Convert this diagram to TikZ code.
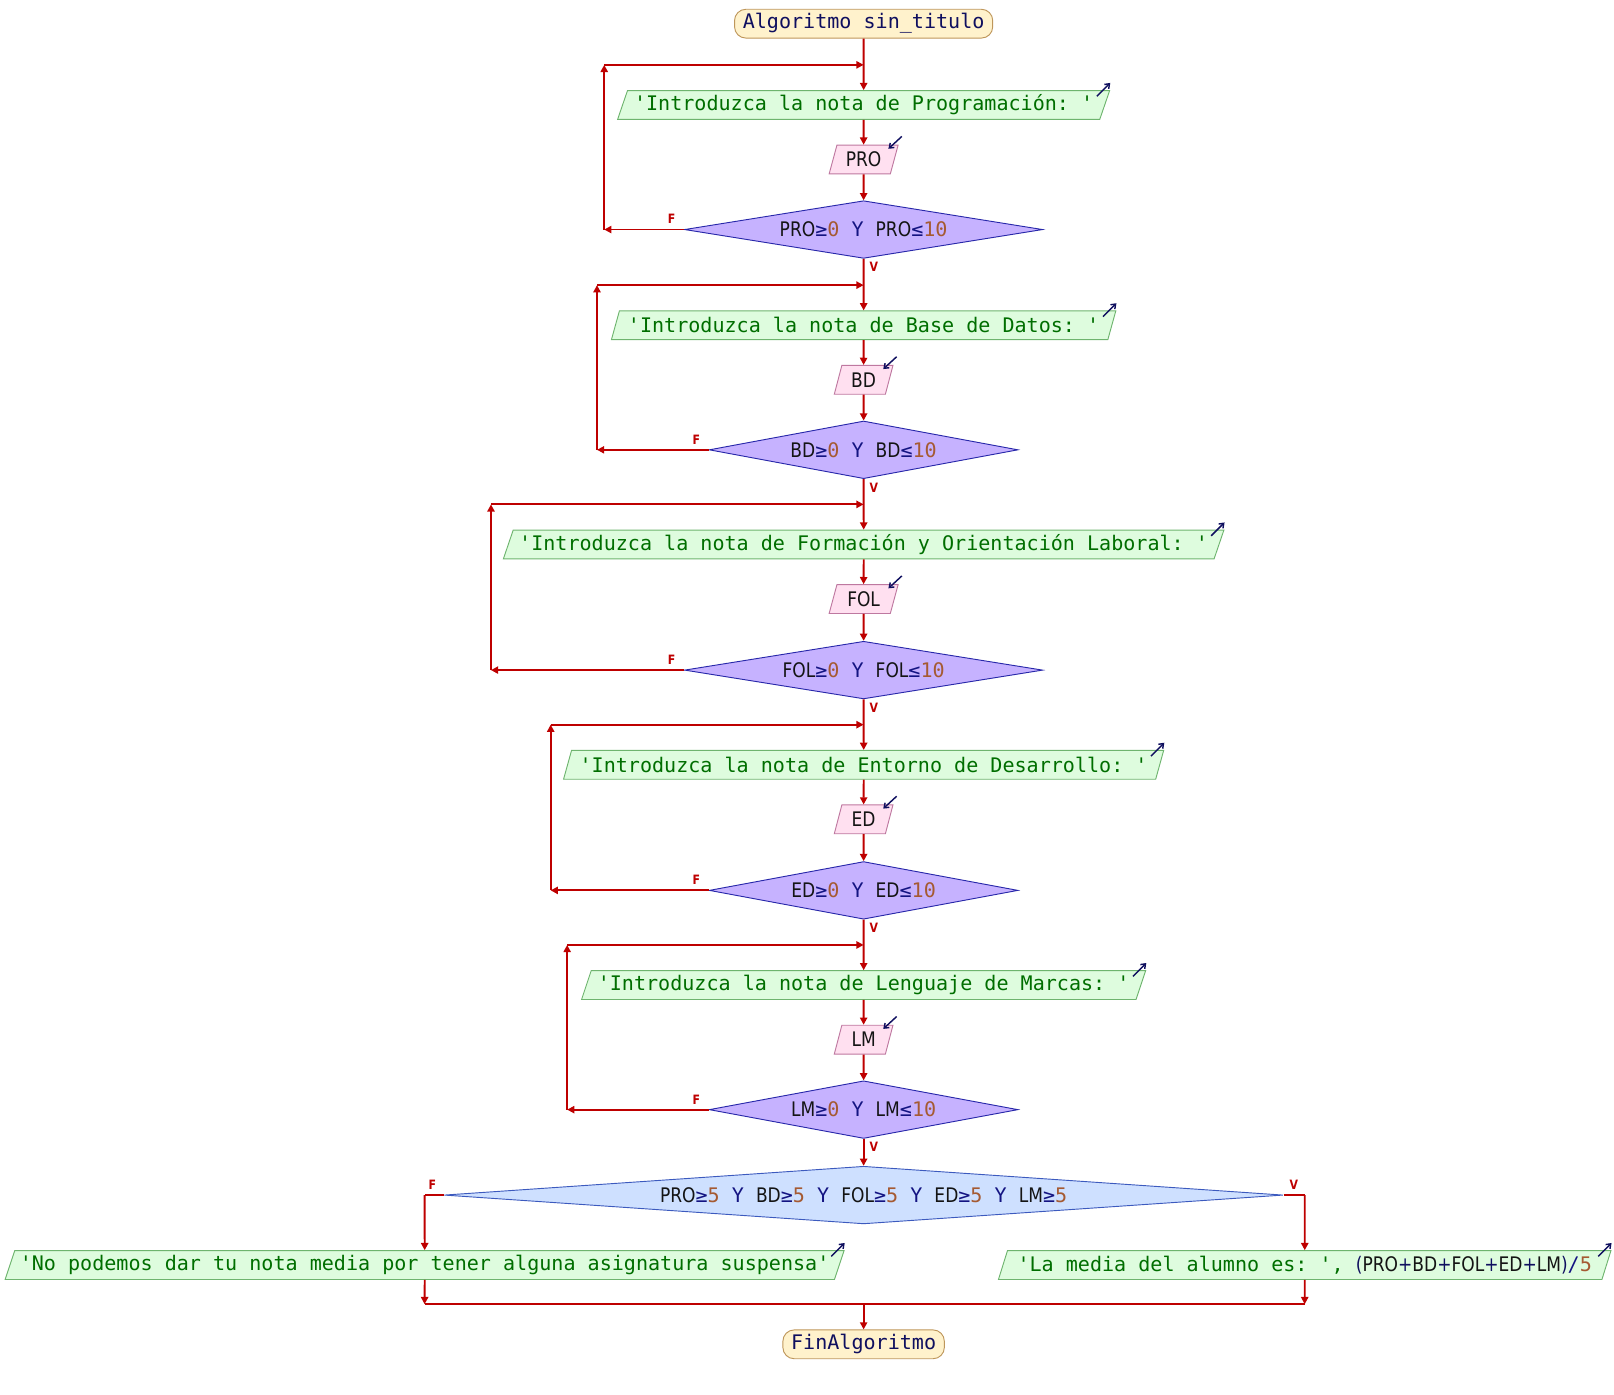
\documentclass[tikz,border=0pt]{standalone}
\usepackage{fontspec}
\setmonofont{DejaVu Sans Mono}
\newfontfamily\idf[FakeStretch=0.85]{DejaVu Sans}
\usetikzlibrary{shapes.geometric,arrows.meta}

\definecolor{flowred}{RGB}{190,0,0}
\definecolor{strgreen}{RGB}{0,110,0}
\definecolor{numbrown}{RGB}{165,90,50}
\definecolor{kwblue}{RGB}{20,20,130}
\definecolor{navy}{RGB}{15,15,95}
\definecolor{idblack}{RGB}{20,20,20}
\definecolor{termfill}{RGB}{255,242,204}
\definecolor{termdraw}{RGB}{190,150,90}
\definecolor{outfill}{RGB}{222,252,222}
\definecolor{outdraw}{RGB}{110,180,110}
\definecolor{infill}{RGB}{255,224,240}
\definecolor{indraw}{RGB}{190,120,160}
\definecolor{condfill}{RGB}{198,178,255}
\definecolor{conddraw}{RGB}{40,40,170}
\definecolor{finalfill}{RGB}{206,224,255}
\definecolor{finaldraw}{RGB}{60,90,190}

% text pieces
\newcommand\str[1]{{\color{strgreen}\ttfamily #1}}
\newcommand\idn[1]{{\color{idblack}\idf #1}}
\newcommand\num[1]{{\color{numbrown}\ttfamily #1}}
\newcommand\kw[1]{{\color{kwblue}\ttfamily #1}}
\newcommand\opr[1]{{\color{kwblue}\ttfamily #1}}

\begin{document}
\begin{tikzpicture}[x=1pt,y=-1pt,
  font=\fontsize{19.5}{23}\selectfont,
  term/.style={draw=termdraw,fill=termfill,rounded corners=11pt,line width=0.9pt,
    minimum height=28pt,inner xsep=8pt,inner ysep=2pt,text=navy,font=\fontsize{19.5}{23}\selectfont\ttfamily},
  outbox/.style={trapezium,trapezium left angle=68,trapezium right angle=112,
    trapezium stretches body,draw=outdraw,fill=outfill,line width=0.9pt,
    minimum height=28pt,inner xsep=2pt,inner ysep=2pt},
  inbox/.style={trapezium,trapezium left angle=68,trapezium right angle=112,
    trapezium stretches body,draw=indraw,fill=infill,line width=0.9pt,
    minimum height=28pt,inner xsep=1pt,inner ysep=2pt},
  cond/.style={diamond,draw=conddraw,fill=condfill,line width=0.9pt,
    inner sep=0pt,aspect=6,minimum height=56pt},
  finalcond/.style={diamond,draw=finaldraw,fill=finalfill,line width=0.9pt,
    inner sep=0pt,aspect=14,minimum height=56pt},
  flow/.style={draw=flowred,line width=1.8pt,-{Triangle[length=7pt,width=7pt]}},
  plain/.style={draw=flowred,line width=1.8pt},
  icon/.style={draw=navy,line width=1.4pt,-{Straight Barb[length=4pt,width=6pt]}},
  tag/.style={text=flowred,font=\fontsize{12.5}{13}\selectfont\idf\bfseries,inner sep=0pt}
]
\useasboundingbox (0,0) rectangle (1568,1355);

% start
\node[term] (t) at (839,23) {Algoritmo sin\_titulo};

% block 1
\node[outbox,minimum width=478pt] (o1) at (839,102) {\str{'Introduzca la nota de Programación: '}};
\node[inbox,minimum width=67pt] (i1) at (839,155) {\idn{PRO}};
\node[cond,minimum width=348pt] (d1) at (839,223) {\idn{PRO}\opr{≥}\num{0}\kw{\ Y\ }\idn{PRO}\opr{≤}\num{10}};

% block 2
\node[outbox,minimum width=490pt] (o2) at (839,316) {\str{'Introduzca la nota de Base de Datos: '}};
\node[inbox,minimum width=57pt] (i2) at (839,369) {\idn{BD}};
\node[cond,minimum width=300pt] (d2) at (839,437) {\idn{BD}\opr{≥}\num{0}\kw{\ Y\ }\idn{BD}\opr{≤}\num{10}};

% block 3
\node[outbox,minimum width=700pt] (o3) at (839,529) {\str{'Introduzca la nota de Formación y Orientación Laboral: '}};
\node[inbox,minimum width=67pt] (i3) at (839,582) {\idn{FOL}};
\node[cond,minimum width=348pt] (d3) at (839,651) {\idn{FOL}\opr{≥}\num{0}\kw{\ Y\ }\idn{FOL}\opr{≤}\num{10}};

% block 4
\node[outbox,minimum width=583pt] (o4) at (839,743) {\str{'Introduzca la nota de Entorno de Desarrollo: '}};
\node[inbox,minimum width=57pt] (i4) at (839,796) {\idn{ED}};
\node[cond,minimum width=300pt] (d4) at (839,865) {\idn{ED}\opr{≥}\num{0}\kw{\ Y\ }\idn{ED}\opr{≤}\num{10}};

% block 5
\node[outbox,minimum width=548pt] (o5) at (839,957) {\str{'Introduzca la nota de Lenguaje de Marcas: '}};
\node[inbox,minimum width=57pt] (i5) at (839,1010) {\idn{LM}};
\node[cond,minimum width=300pt] (d5) at (839,1078) {\idn{LM}\opr{≥}\num{0}\kw{\ Y\ }\idn{LM}\opr{≤}\num{10}};

% final decision
\node[finalcond,minimum width=815pt] (d6) at (839,1161) {\idn{PRO}\opr{≥}\num{5}\kw{\ Y\ }\idn{BD}\opr{≥}\num{5}\kw{\ Y\ }\idn{FOL}\opr{≥}\num{5}\kw{\ Y\ }\idn{ED}\opr{≥}\num{5}\kw{\ Y\ }\idn{LM}\opr{≥}\num{5}};
\node[outbox,minimum width=815pt] (o6) at (412.5,1229) {\str{'No podemos dar tu nota media por tener alguna asignatura suspensa'}};
\node[outbox,minimum width=595pt] (o7) at (1267.5,1229) {\str{'La media del alumno es: ',\ }{\color{navy}\idf (}\idn{PRO}{\color{navy}\idf +}\idn{BD}{\color{navy}\idf +}\idn{FOL}{\color{navy}\idf +}\idn{ED}{\color{navy}\idf +}\idn{LM}{\color{navy}\idf )}\opr{/}\num{5}};

% end
\node[term] (fin) at (839,1306) {FinAlgoritmo};

% loop corner points
\coordinate (L1) at (587,63);   \coordinate (J1) at (839,63);
\coordinate (L2) at (580,277);  \coordinate (J2) at (839,277);
\coordinate (L3) at (477,490);  \coordinate (J3) at (839,490);
\coordinate (L4) at (535,704);  \coordinate (J4) at (839,704);
\coordinate (L5) at (551,918);  \coordinate (J5) at (839,918);

% main flow
\draw[flow] (t.south) -- (o1.north);
\draw[flow] (o1.south) -- (i1.north);
\draw[flow] (i1.south) -- (d1.north);
\draw[flow] (d1.south) -- (o2.north);
\draw[flow] (o2.south) -- (i2.north);
\draw[flow] (i2.south) -- (d2.north);
\draw[flow] (d2.south) -- (o3.north);
\draw[flow] (o3.south) -- (i3.north);
\draw[flow] (i3.south) -- (d3.north);
\draw[flow] (d3.south) -- (o4.north);
\draw[flow] (o4.south) -- (i4.north);
\draw[flow] (i4.south) -- (d4.north);
\draw[flow] (d4.south) -- (o5.north);
\draw[flow] (o5.south) -- (i5.north);
\draw[flow] (i5.south) -- (d5.north);
\draw[flow] (d5.south) -- (d6.north);

% validation loops (false branch goes back up)
\foreach \k in {1,...,5}{
  \draw[flow] (d\k.west) -- (d\k.west -| L\k);
  \draw[flow] (d\k.west -| L\k) -- (L\k);
  \draw[flow] (L\k) -- (J\k);
  \node[tag] at ([shift={(-12,-10)}]d\k.west) {F};
  \node[tag] at ([shift={(10,8)}]d\k.south) {V};
}

% final branches
\coordinate (FL) at (412.5,1161);
\coordinate (FR) at (1267.5,1161);
\draw[plain] (d6.west) -- (FL);
\draw[flow] (FL) -- (o6.north);
\draw[plain] (d6.east) -- (FR);
\draw[flow] (FR) -- (o7.north);
\node[tag] at ([shift={(-11,-10)}]d6.west) {F};
\node[tag] at ([shift={(10,-10)}]d6.east) {V};

\coordinate (ML) at (412.5,1267);
\coordinate (MR) at (1267.5,1267);
\coordinate (MC) at (839,1267);
\draw[flow] (o6.south) -- (ML);
\draw[flow] (o7.south) -- (MR);
\draw[plain] (ML) -- (MR);
\draw[flow] (MC) -- (fin.north);

% output / input markers
\foreach \n in {o1,o2,o3,o4,o5,o6,o7}{
  \draw[icon] ([shift={(-13,6)}]\n.top right corner) -- ([shift={(0,-7)}]\n.top right corner);
}
\foreach \n in {i1,i2,i3,i4,i5}{
  \draw[icon] ([shift={(3,-8)}]\n.top right corner) -- ([shift={(-10,4)}]\n.top right corner);
}
\end{tikzpicture}
\end{document}
